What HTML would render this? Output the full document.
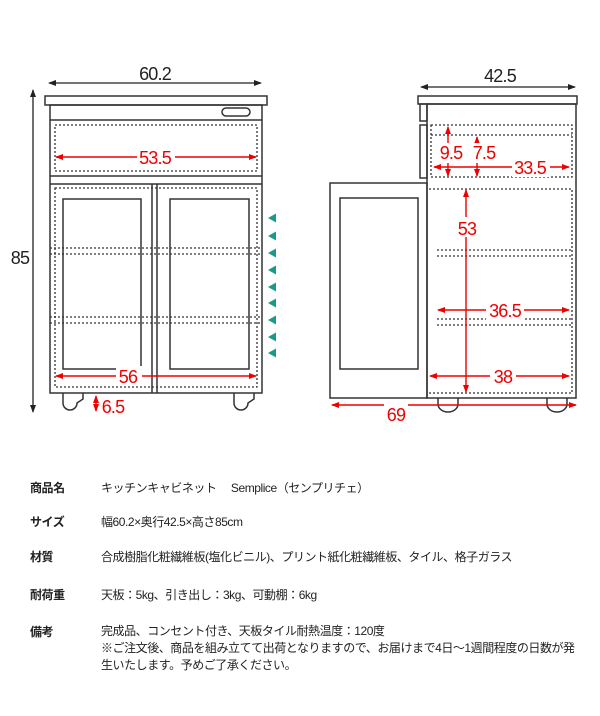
<!DOCTYPE html>
<html><head><meta charset="utf-8"><style>
body{margin:0;background:#fff;width:600px;height:716px;overflow:hidden;position:relative;font-family:"Liberation Sans","Noto Sans CJK JP",sans-serif}
.r{position:absolute;font-size:12px;color:#222;white-space:nowrap;letter-spacing:-0.45px}
.l{left:30px;font-weight:bold}
.v{left:101px}
</style></head><body>
<svg width="600" height="460" style="position:absolute;left:0;top:0" xmlns="http://www.w3.org/2000/svg">
<defs>
<marker id="ak" markerWidth="8" markerHeight="8" refX="7" refY="4" orient="auto-start-reverse" markerUnits="userSpaceOnUse"><path d="M0,1 L8,4 L0,7z" fill="#222"/></marker>
<marker id="ar" markerWidth="8" markerHeight="8" refX="7" refY="4" orient="auto-start-reverse" markerUnits="userSpaceOnUse"><path d="M0,1 L8,4 L0,7z" fill="#e00"/></marker>
</defs>
<g fill="none" stroke="#333" stroke-width="1.5">
<rect x="45" y="96" width="222" height="9" fill="#fff"/>
<rect x="50" y="105" width="212" height="288"/>
<rect x="222" y="108" width="28" height="8" rx="4"/>
<line x1="50" y1="120" x2="262" y2="120"/>
<line x1="50" y1="176" x2="262" y2="176"/>
<line x1="50" y1="184" x2="262" y2="184"/>
<line x1="152" y1="184" x2="152" y2="393"/>
<line x1="157" y1="184" x2="157" y2="393"/>
<rect x="63" y="199" width="78" height="170"/>
<rect x="170" y="199" width="79" height="170"/>
<path d="M63,393 v10 a7,7 0 0 0 14,0 l6,-4 v-6"/>
<path d="M234,393 v10 a7,7 0 0 0 14,0 l6,-4 v-6"/>
<rect x="418" y="96" width="159" height="8" fill="#fff"/>
<rect x="427" y="104" width="149" height="294"/>
<rect x="420" y="104" width="7" height="17"/>
<rect x="420" y="125" width="7" height="53"/>
<rect x="330" y="183" width="97" height="215"/>
<rect x="340" y="198" width="78" height="171"/>
<path d="M438,398 v6 a10,8 0 0 0 20,0 v-6"/>
<path d="M547,398 v6 a10,8 0 0 0 20,0 v-6"/>
</g>
<g fill="none" stroke="#333" stroke-width="1.3" stroke-dasharray="2,2">
<rect x="55" y="125" width="202" height="46"/>
<rect x="55" y="188" width="202" height="199"/>
<line x1="50" y1="248" x2="262" y2="248"/><line x1="50" y1="254" x2="262" y2="254"/>
<line x1="50" y1="317" x2="262" y2="317"/><line x1="50" y1="323" x2="262" y2="323"/>
<rect x="431" y="125" width="141" height="52"/>
<line x1="431" y1="135" x2="572" y2="135"/>
<path d="M429,189 H572 V393 H429"/>
<line x1="437" y1="250" x2="572" y2="250"/><line x1="437" y1="256" x2="572" y2="256"/>
<line x1="437" y1="319" x2="572" y2="319"/><line x1="437" y1="325" x2="572" y2="325"/>
</g>
<g stroke="#222" stroke-width="1.3">
<line x1="49" y1="83" x2="261" y2="83" marker-start="url(#ak)" marker-end="url(#ak)"/>
<line x1="33" y1="90" x2="33" y2="412" marker-start="url(#ak)" marker-end="url(#ak)"/>
<line x1="421" y1="87" x2="575" y2="87" marker-start="url(#ak)" marker-end="url(#ak)"/>
</g>
<g font-family="Liberation Sans,sans-serif" font-size="18" fill="#222" text-anchor="middle" letter-spacing="-0.8">
<text x="155" y="80">60.2</text>
<text x="20" y="264">85</text>
<text x="500" y="82">42.5</text>
</g>
<g stroke="#e00" stroke-width="1.4">
<line x1="56" y1="157" x2="256" y2="157" marker-start="url(#ar)" marker-end="url(#ar)"/>
<line x1="56" y1="376" x2="256" y2="376" marker-start="url(#ar)" marker-end="url(#ar)"/>
<line x1="96" y1="396" x2="96" y2="411" marker-start="url(#ar)" marker-end="url(#ar)"/>
<line x1="448" y1="127" x2="448" y2="176" marker-start="url(#ar)" marker-end="url(#ar)"/>
<line x1="477" y1="137" x2="477" y2="176" marker-start="url(#ar)" marker-end="url(#ar)"/>
<line x1="434" y1="167" x2="569" y2="167" marker-start="url(#ar)" marker-end="url(#ar)"/>
<line x1="466" y1="190" x2="466" y2="392" marker-start="url(#ar)" marker-end="url(#ar)"/>
<line x1="438" y1="310" x2="569" y2="310" marker-start="url(#ar)" marker-end="url(#ar)"/>
<line x1="430" y1="376" x2="569" y2="376" marker-start="url(#ar)" marker-end="url(#ar)"/>
<line x1="332" y1="405" x2="576" y2="405" marker-start="url(#ar)" marker-end="url(#ar)"/>
</g>
<g font-family="Liberation Sans,sans-serif" font-size="18" fill="#e00" text-anchor="middle" letter-spacing="-0.8">
<rect x="137" y="147" width="38" height="20" fill="#fff"/><text x="155" y="164">53.5</text>
<rect x="116" y="366" width="26" height="20" fill="#fff"/><text x="128" y="383">56</text>
<text x="113" y="413">6.5</text>
<rect x="438" y="143" width="52" height="20" fill="#fff"/>
<text x="451" y="159">9.5</text><text x="484" y="159">7.5</text>
<rect x="512" y="157" width="38" height="20" fill="#fff"/><text x="530" y="174">33.5</text>
<rect x="457" y="217" width="20" height="20" fill="#fff"/><text x="467" y="235">53</text>
<rect x="486" y="300" width="38" height="20" fill="#fff"/><text x="505" y="317">36.5</text>
<rect x="490" y="366" width="26" height="20" fill="#fff"/><text x="503" y="383">38</text>
<rect x="384" y="400" width="24" height="12" fill="#fff"/><text x="396" y="421">69</text>
</g>
<g fill="#1a9a8a">
<path d="M268,218 l8,-4.5 v9z"/><path d="M268,236 l8,-4.5 v9z"/><path d="M268,253 l8,-4.5 v9z"/>
<path d="M268,270 l8,-4.5 v9z"/><path d="M268,287 l8,-4.5 v9z"/><path d="M268,303 l8,-4.5 v9z"/>
<path d="M268,320 l8,-4.5 v9z"/><path d="M268,337 l8,-4.5 v9z"/><path d="M268,353 l8,-4.5 v9z"/>
</g>
</svg>
<div class="r l" style="top:479px">商品名</div><div class="r v" style="top:479px">キッチンキャビネット　 Semplice（センプリチェ）</div>
<div class="r l" style="top:513px">サイズ</div><div class="r v" style="top:513px">幅60.2×奥行42.5×高さ85cm</div>
<div class="r l" style="top:548px">材質</div><div class="r v" style="top:548px">合成樹脂化粧繊維板(塩化ビニル)、プリント紙化粧繊維板、タイル、格子ガラス</div>
<div class="r l" style="top:586px">耐荷重</div><div class="r v" style="top:586px">天板：5kg、引き出し：3kg、可動棚：6kg</div>
<div class="r l" style="top:623px">備考</div>
<div class="r v" style="top:623px;line-height:17px">完成品、コンセント付き、天板タイル耐熱温度：120度<br>※ご注文後、商品を組み立てて出荷となりますので、お届けまで4日～1週間程度の日数が発<br>生いたします。予めご了承ください。</div>
</body></html>
